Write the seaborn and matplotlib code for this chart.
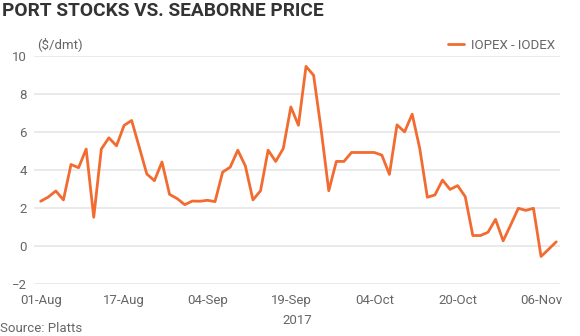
import matplotlib
matplotlib.use("Agg")
import matplotlib.pyplot as plt
from matplotlib import font_manager
import seaborn as sns
import pandas as pd
import numpy as np

# ---- data ----
spread = [2.36, 2.58, 2.90, 2.43, 4.29, 4.12, 5.10, 1.52, 5.10, 5.69,
          5.27, 6.34, 6.60, 5.20, 3.79, 3.44, 4.42, 2.72, 2.50, 2.18,
          2.37, 2.36, 2.41, 2.34, 3.89, 4.15, 5.04, 4.21, 2.43, 2.91,
          5.04, 4.45, 5.13, 7.31, 6.35, 9.44, 8.97, 6.10, 2.91, 4.45,
          4.45, 4.92, 4.92, 4.92, 4.92, 4.78, 3.77, 6.37, 6.00, 6.93,
          5.13, 2.57, 2.69, 3.47, 2.98, 3.18, 2.60, 0.56, 0.56, 0.73,
          1.41, 0.28, 1.12, 1.99, 1.88, 1.99, -0.54, -0.16, 0.23]
tick_labels = ["01-Aug", "17-Aug", "04-Sep", "19-Sep", "04-Oct", "20-Oct", "06-Nov"]
tick_every = 11
y_ticks = [-2, 0, 2, 4, 6, 8, 10]
series_name = "IOPEX - IODEX"

df = pd.DataFrame({"idx": np.arange(len(spread)), "value": spread,
                   "series": series_name})

sns.set_theme(style="white")
avail = {f.name for f in font_manager.fontManager.ttflist}
base_font = "Roboto" if "Roboto" in avail else "DejaVu Sans"
plt.rcParams["font.family"] = [base_font, "DejaVu Sans"]

W, H = 5.8, 3.36
fig = plt.figure(figsize=(W, H), dpi=100)
ax = fig.add_axes([34 / 580, 1 - 284.3 / 336, (560 - 34) / 580, (284.3 - 55.7) / 336])

sns.lineplot(data=df, x="idx", y="value", hue="series", palette=["#F26B30"],
             linewidth=2.0, ax=ax, legend=True)

ax.set_ylim(-2, 10)
ax.set_yticks(y_ticks)
ax.set_xlim(-0.88, len(spread) - 1 + 0.5)
ax.set_xticks([i * tick_every for i in range(len(tick_labels))])
ax.set_xticklabels(tick_labels)
ax.grid(axis="y", color="#e6e6e6", linewidth=1.2)
ax.grid(axis="x", visible=False)
for s in ax.spines.values():
    s.set_visible(False)
ax.tick_params(axis="both", length=0, labelsize=9.5, colors="#666666")
ax.tick_params(axis="y", pad=5)
ax.tick_params(axis="x", pad=7)
ax.set_xlabel("2017", fontsize=9.5, color="#666666", labelpad=5)
ax.set_ylabel("")

leg = ax.legend(loc="lower right", bbox_to_anchor=(1.005, 0.985), frameon=False,
                fontsize=9.5, handlelength=1.25, handletextpad=0.55,
                borderaxespad=0.15)
for t in leg.get_texts():
    t.set_color("#666666")

fig.text(37 / 580, 1 - 44 / 336, "($/dmt)", fontsize=9.5, color="#666666",
         va="center", ha="left")
fig.text(2 / 580, 1 - 11 / 336, "PORT STOCKS VS. SEABORNE PRICE",
         fontsize=13.8, fontweight="bold", color="#333333",
         va="center", ha="left")
fig.text(0 / 580, 1 - 328 / 336, "Source: Platts", fontsize=9.5, color="#666666",
         va="center", ha="left")

fig.savefig("out.png", dpi=100)
